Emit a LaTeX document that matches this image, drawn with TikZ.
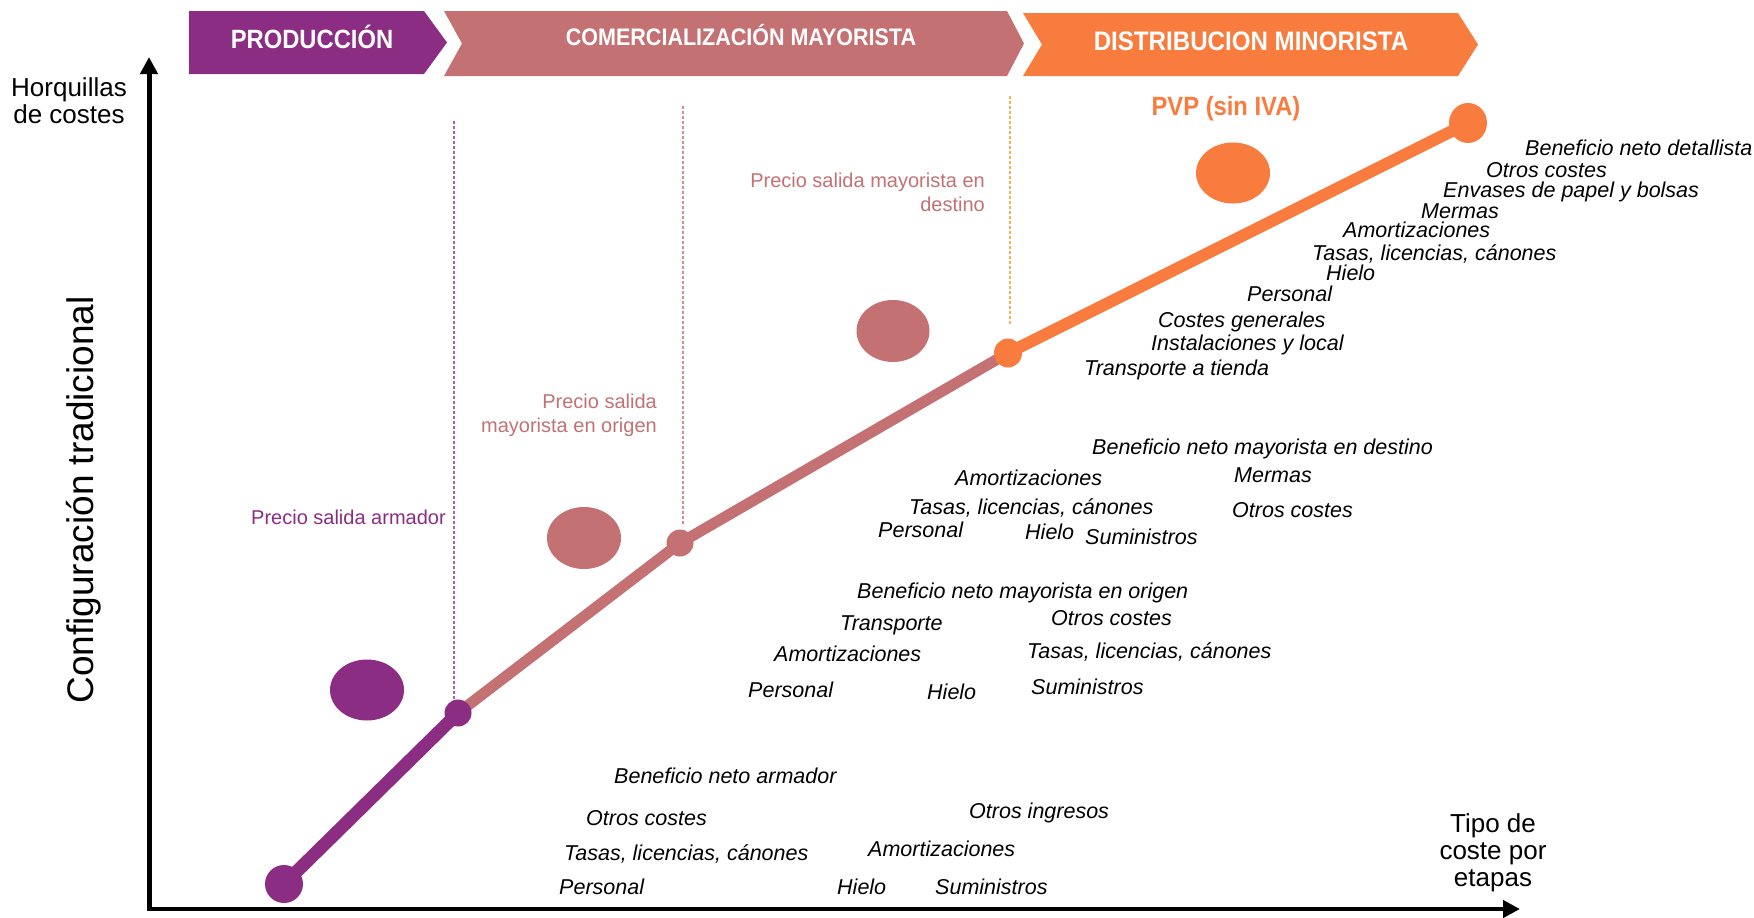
\documentclass[tikz,border=0pt]{standalone}
\usepackage{fontspec}
\setmainfont{Liberation Sans}
\newfontfamily\bannerfont[FakeStretch=0.9]{Liberation Sans}
\usetikzlibrary{arrows.meta,shapes.geometric}
\definecolor{cpur}{HTML}{8B2E83}
\definecolor{cpink}{HTML}{C47174}
\definecolor{corg}{HTML}{F97C3F}
\definecolor{cgold}{HTML}{F2B64A}
\begin{document}
\begin{tikzpicture}[x=1pt,y=-1pt,
  cost/.style={font=\fontsize{21.5}{25}\selectfont\itshape, anchor=mid west, inner sep=0pt, yshift=-6pt},
  axislabel/.style={font=\fontsize{26}{27}\selectfont, align=center, inner sep=0pt},
  bannertext/.style={text=white, inner sep=0pt, anchor=base},
  price/.style={font=\fontsize{20}{24}\selectfont, inner sep=0pt, align=right},
  blob/.style={ellipse, inner sep=0pt, draw=none},
  guide/.style={line width=1.1pt, dash pattern=on 3pt off 2pt},
  axisline/.style={line width=5pt, -{Triangle[length=17pt,width=17pt]}}
]
\useasboundingbox (0,0) rectangle (1754,918);
\fill[white] (0,0) rectangle (1754,918);

% banners
\fill[cpur] (189,11) -- (424,11) -- (447,42.5) -- (424,74) -- (189,74) -- cycle;
\fill[cpink] (444,11) -- (1007,11) -- (1024,43.5) -- (1007,76) -- (444,76) -- (462,43.5) -- cycle;
\fill[corg] (1023,13) -- (1458,13) -- (1478,44.5) -- (1458,76) -- (1023,76) -- (1042,44.5) -- cycle;
\node[bannertext, font=\bannerfont\bfseries\fontsize{26.4}{26}\selectfont] (bprod) at (312,48) {PRODUCCIÓN};
\node[bannertext, font=\bannerfont\bfseries\fontsize{23.9}{24}\selectfont] (bcom) at (741,45) {COMERCIALIZACIÓN MAYORISTA};
\node[bannertext, font=\bannerfont\bfseries\fontsize{26.8}{27}\selectfont] (bdis) at (1251,50) {DISTRIBUCION MINORISTA};

% axes
\coordinate (yb) at (149,911);
\coordinate (ytop) at (149,57);
\coordinate (xb) at (147,909);
\coordinate (xend) at (1520,909);
\draw[axisline] (yb) -- (ytop);
\draw[axisline, line width=4.5pt] (xb) -- (xend);
\node[axislabel] (ylab) at (69,101) {Horquillas\\de costes};
\node[axislabel] (xlab) at (1493,853) {Tipo de\\coste por\\etapas};
\node[font=\fontsize{37}{37}\selectfont, rotate=90, inner sep=0pt] (conf) at (84,500) {Configuración tradicional};

% guides
\coordinate (g1t) at (454,121); \coordinate (g1b) at (454,699);
\coordinate (g2t) at (683,106); \coordinate (g2b) at (683,526);
\coordinate (g3t) at (1010,96); \coordinate (g3b) at (1010,324);
\draw[guide, cpur!75] (g1t) -- (g1b);
\draw[guide, cpink!80] (g2t) -- (g2b);
\draw[guide, cgold] (g3t) -- (g3b);

% path
\coordinate (c0) at (284,884);
\coordinate (c1) at (458,713);
\coordinate (c2) at (680,543);
\coordinate (c3) at (1008,353);
\coordinate (c4) at (1468,123);
\draw[line width=13pt, cpur] (c0) -- (c1);
\draw[line width=11pt, cpink] (c1) -- (c2) -- (c3);
\draw[line width=12pt, corg] (c3) -- (c4);
\node[blob, fill=cpur, minimum width=38pt, minimum height=38pt] (n0) at (c0) {};
\node[blob, fill=cpur, minimum width=27pt, minimum height=27pt] (n1) at (c1) {};
\node[blob, fill=cpink, minimum width=27pt, minimum height=27pt] (n2) at (c2) {};
\node[blob, fill=corg, minimum width=28pt, minimum height=29pt] (n3) at (c3) {};
\node[blob, fill=corg, minimum width=38pt, minimum height=40pt] (n4) at (c4) {};

% big ellipses
\node[blob, fill=cpur, minimum width=74pt, minimum height=61pt] (e1) at (367,690) {};
\node[blob, fill=cpink, minimum width=74pt, minimum height=62pt] (e2) at (584,538) {};
\node[blob, fill=cpink, minimum width=73pt, minimum height=62pt] (e3) at (893,331) {};
\node[blob, fill=corg, minimum width=74pt, minimum height=61pt] (e4) at (1233,173) {};

% price labels
\node[price, text=cpur, anchor=mid west] (pa) at (251,522) {Precio salida armador};
\node[price, text=cpink, anchor=east] (po) at (657,415) {Precio salida\\mayorista en origen};
\node[price, text=cpink, anchor=east] (pd) at (985,192) {Precio salida mayorista en\\destino};
\node[font=\bannerfont\bfseries\fontsize{26.4}{26}\selectfont, text=corg, inner sep=0pt] (pvp) at (1226,109) {PVP (sin IVA)};

% production costs
\node[cost] (a1) at (614,775) {Beneficio neto armador};
\node[cost] (a2) at (586,817) {Otros costes};
\node[cost] (a3) at (564,852) {Tasas, licencias, cánones};
\node[cost] (a4) at (559,886) {Personal};
\node[cost] (a5) at (837,886) {Hielo};
\node[cost] (a6) at (935,886) {Suministros};
\node[cost] (a7) at (868,848) {Amortizaciones};
\node[cost] (a8) at (969,810) {Otros ingresos};

% wholesale origin
\node[cost] (o1) at (857,590) {Beneficio neto mayorista en origen};
\node[cost] (o2) at (840,622) {Transporte};
\node[cost] (o3) at (1051,617) {Otros costes};
\node[cost] (o4) at (774,653) {Amortizaciones};
\node[cost] (o5) at (1027,650) {Tasas, licencias, cánones};
\node[cost] (o6) at (748,689) {Personal};
\node[cost] (o7) at (927,691) {Hielo};
\node[cost] (o8) at (1031,686) {Suministros};

% wholesale destination
\node[cost] (d1) at (1092,446) {Beneficio neto mayorista en destino};
\node[cost] (d2) at (955,477) {Amortizaciones};
\node[cost] (d3) at (1234,474) {Mermas};
\node[cost] (d4) at (909,506) {Tasas, licencias, cánones};
\node[cost] (d5) at (1232,509) {Otros costes};
\node[cost] (d6) at (878,529) {Personal};
\node[cost] (d7) at (1025,531) {Hielo};
\node[cost] (d8) at (1085,536) {Suministros};

% retail
\node[cost] (r1) at (1525,147) {Beneficio neto detallista};
\node[cost] (r2) at (1486,169) {Otros costes};
\node[cost] (r3) at (1443,189) {Envases de papel y bolsas};
\node[cost] (r4) at (1421,210) {Mermas};
\node[cost] (r5) at (1343,229) {Amortizaciones};
\node[cost] (r6) at (1312,252) {Tasas, licencias, cánones};
\node[cost] (r7) at (1326,272) {Hielo};
\node[cost] (r8) at (1247,293) {Personal};
\node[cost] (r9) at (1158,319) {Costes generales};
\node[cost] (r10) at (1151,342) {Instalaciones y local};
\node[cost] (r11) at (1084,367) {Transporte a tienda};
\end{tikzpicture}
\end{document}
